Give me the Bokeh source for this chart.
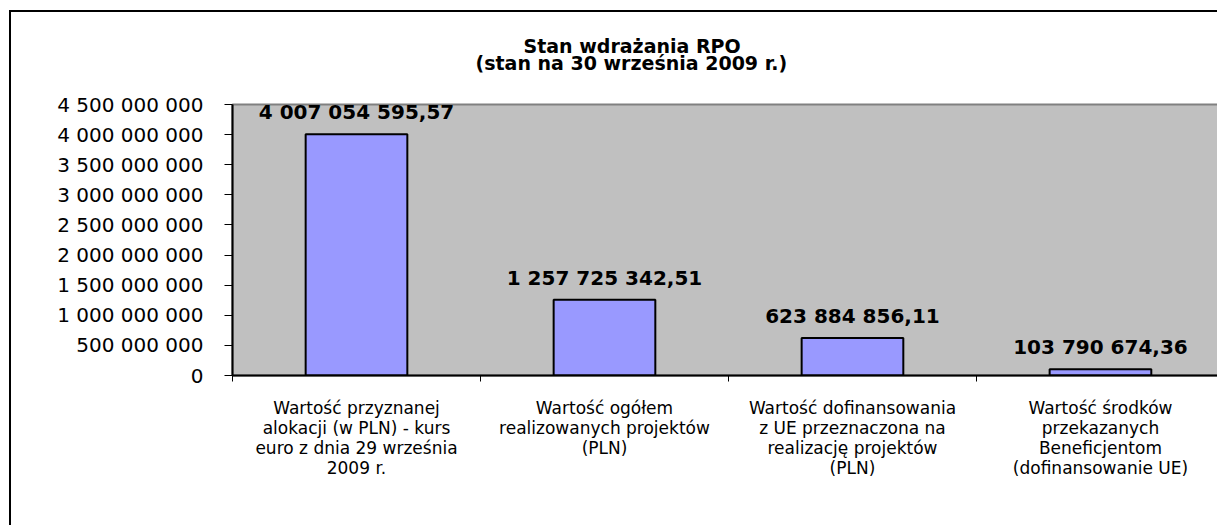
from bokeh.plotting import figure
from bokeh.models import Range1d, FixedTicker, Title, ColumnDataSource
from bokeh.embed import file_html
from bokeh.resources import INLINE
from bokeh.core.properties import value

# ---- data ----
categories = [
    "Wartość przyznanej\nalokacji (w PLN) - kurs\neuro z dnia 29 września\n2009 r.",
    "Wartość ogółem\nrealizowanych projektów\n(PLN)",
    "Wartość dofinansowania\nz UE przeznaczona na\nrealizację projektów\n(PLN)",
    "Wartość środków\nprzekazanych\nBeneficjentom\n(dofinansowanie UE)",
]
values = [4007054595.57, 1257725342.51, 623884856.11, 103790674.36]
y_ticks = [0, 500000000, 1000000000, 1500000000, 2000000000,
           2500000000, 3000000000, 3500000000, 4000000000, 4500000000]
y_tick_labels = ["0", "500 000 000", "1 000 000 000", "1 500 000 000",
                 "2 000 000 000", "2 500 000 000", "3 000 000 000",
                 "3 500 000 000", "4 000 000 000", "4 500 000 000"]
title_lines = ["Stan wdrażania RPO", "(stan na 30 września 2009 r.)"]


def fmt(v):
    s = f"{v:,.2f}"
    return s.replace(",", " ").replace(".", ",")


value_labels = [fmt(v) for v in values]
positions = [i + 0.5 for i in range(len(categories))]
boundaries = [float(i) for i in range(len(categories) + 1)]

src = ColumnDataSource(dict(x=positions, top=values, label=value_labels))

FONT = "DejaVu Sans"

p = figure(width=1208, height=515, output_backend="svg", toolbar_location=None,
           x_range=Range1d(0, 3.98), y_range=Range1d(0, 4.5e9),
           min_border_left=221, min_border_top=92, min_border_bottom=152,
           min_border_right=0)
p.styles = {"border-left": "2px solid black", "border-top": "2px solid black",
            "margin-left": "9px", "margin-top": "10px"}
p.background_fill_color = "#C0C0C0"
p.border_fill_color = "white"
p.outline_line_color = "#808080"
p.outline_line_width = 2
p.grid.visible = False

p.vbar(x="x", top="top", width=0.41, source=src, fill_color="#9999FF",
       line_color="black", line_width=2)
p.text(x="x", y="top", text="label", source=src, text_font=value(FONT),
       text_font_style="bold", text_font_size="20px", text_align="center",
       text_baseline="bottom", y_offset=-10, text_color="black")

# x axis
xa = p.xaxis[0]
xa.ticker = FixedTicker(ticks=positions, minor_ticks=boundaries)
xa.major_label_overrides = {pos: cat for pos, cat in zip(positions, categories)}
xa.major_tick_out = 0
xa.major_tick_in = 0
xa.minor_tick_out = 6
xa.minor_tick_in = 0
xa.minor_tick_line_color = "black"
xa.axis_line_color = "black"
xa.axis_line_width = 2
xa.major_label_standoff = 16
xa.major_label_text_font = FONT
xa.major_label_text_font_size = "17px"
xa.major_label_text_line_height = 1.0
xa.major_label_text_color = "black"

# y axis
ya = p.yaxis[0]
ya.ticker = FixedTicker(ticks=y_ticks, minor_ticks=[])
ya.major_label_overrides = {t: l for t, l in zip(y_ticks, y_tick_labels)}
ya.major_tick_out = 8
ya.major_tick_in = 0
ya.major_tick_line_color = "black"
ya.axis_line_color = "black"
ya.axis_line_width = 2
ya.major_label_standoff = 21
ya.major_label_text_font = FONT
ya.major_label_text_font_size = "20px"
ya.major_label_text_color = "black"

# title: two lines, each left-aligned with an offset so both look centred
# (p.title is the outer line, the added Title sits next to the frame)
p.title.text = title_lines[0]
p.title.align = "left"
p.title.offset = 291
p.title.standoff = -75
p.title.text_font = FONT
p.title.text_font_style = "bold"
p.title.text_font_size = "19px"
p.title.text_color = "black"
p.add_layout(Title(text=title_lines[1], align="left", offset=243, standoff=61,
                   text_font=FONT, text_font_style="bold",
                   text_font_size="19px", text_color="black"), "above")

open("out.html", "w").write(file_html(p, INLINE))
